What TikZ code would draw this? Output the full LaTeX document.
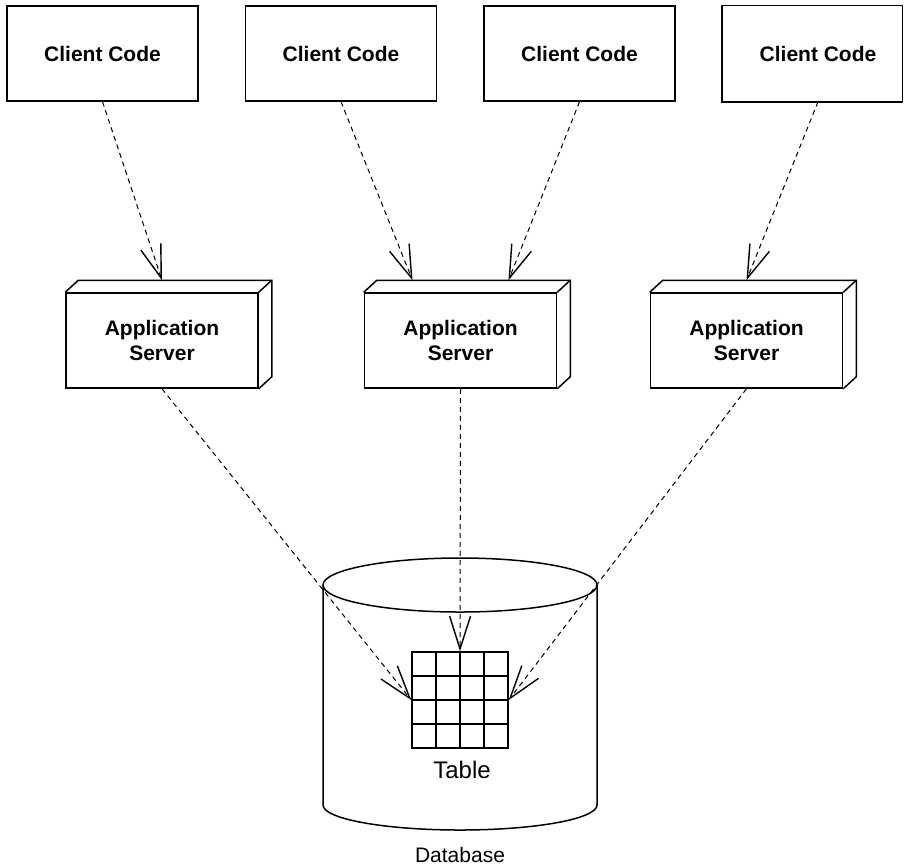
\documentclass[tikz,border=0pt]{standalone}
\usepackage{fontspec}
\setmainfont{Liberation Sans}
\usetikzlibrary{arrows.meta}

\begin{document}
\begin{tikzpicture}[
  x=0.5pt, y=-0.5pt,
  client/.style={rectangle, draw, line width=0.75pt, minimum width=95.5pt, minimum height=47.5pt, inner sep=0pt, font=\fontsize{10.5}{12.5}\selectfont\bfseries},
  server/.style={client, minimum width=96pt, align=center},
  link/.style={dash pattern=on 2.5pt off 2pt, line width=0.5pt, -{Straight Barb[length=16.5pt, width=10.5pt, line width=0.7pt]}}
]
  \useasboundingbox (0,0) rectangle (904,864);

  % Clients
  \node[client] (c1) at (102.5, 53.5) {Client Code};
  \node[client] (c2) at (341, 53.5) {Client Code};
  \node[client] (c3) at (579.5, 53.5) {Client Code};
  \node[client, draw=none] (c4) at (818, 53.5) {Client Code};
  \draw[line width=0.75pt] (c4.north west) rectangle ([xshift=-6pt]c4.south east);

  % Application servers
  \node[server] (s1) at (162, 340.5) {Application\\Server};
  \node[server] (s2) at (460.5, 340.5) {Application\\Server};
  \node[server] (s3) at (746.5, 340.5) {Application\\Server};

  \foreach \s in {s1, s2, s3} {
    \draw[line width=0.75pt] (\s.north west) -- ++(13,-12) -- ([shift={(13,-12)}]\s.north east)
      -- ([shift={(13,-12)}]\s.south east) -- (\s.south east);
    \draw[line width=0.75pt] (\s.north east) -- ++(13,-12);
  }

  % Database
  \draw[line width=0.75pt] (323,585) -- (323,805) arc[start angle=180, end angle=360, x radius=68.5pt, y radius=12.5pt] -- (597,585);
  \draw[line width=0.75pt] (460,585) ellipse [x radius=68.5pt, y radius=13.5pt];
  \node[font=\fontsize{10.5}{12.5}\selectfont] (db) at (460,855) {Database};

  % Table
  \node[rectangle, draw, line width=0.75pt, minimum size=48pt, inner sep=0pt] (tbl) at (460,700) {};
  \foreach \i in {1,2,3} {
    \draw[line width=0.75pt] (412+24*\i,652) -- (412+24*\i,748);
    \draw[line width=0.75pt] (412,652+24*\i) -- (508,652+24*\i);
  }
  \node[font=\fontsize{12}{14}\selectfont] (tbllbl) at (462,770) {Table};

  % Edges
  \draw[link] (c1.south) -- ([yshift=6pt]s1.north);
  \draw[link] (c2.south) -- ([shift={(-48,-12)}]s2.north);
  \draw[link] (c3.south) -- ([shift={(48,-12)}]s2.north);
  \draw[link] (c4.south) -- ([yshift=6pt]s3.north);

  \draw[link] (s1.south) -- (tbl.west);
  \draw[link] (s2.south) -- (tbl.north);
  \draw[link] (s3.south) -- (tbl.east);
\end{tikzpicture}
\end{document}
